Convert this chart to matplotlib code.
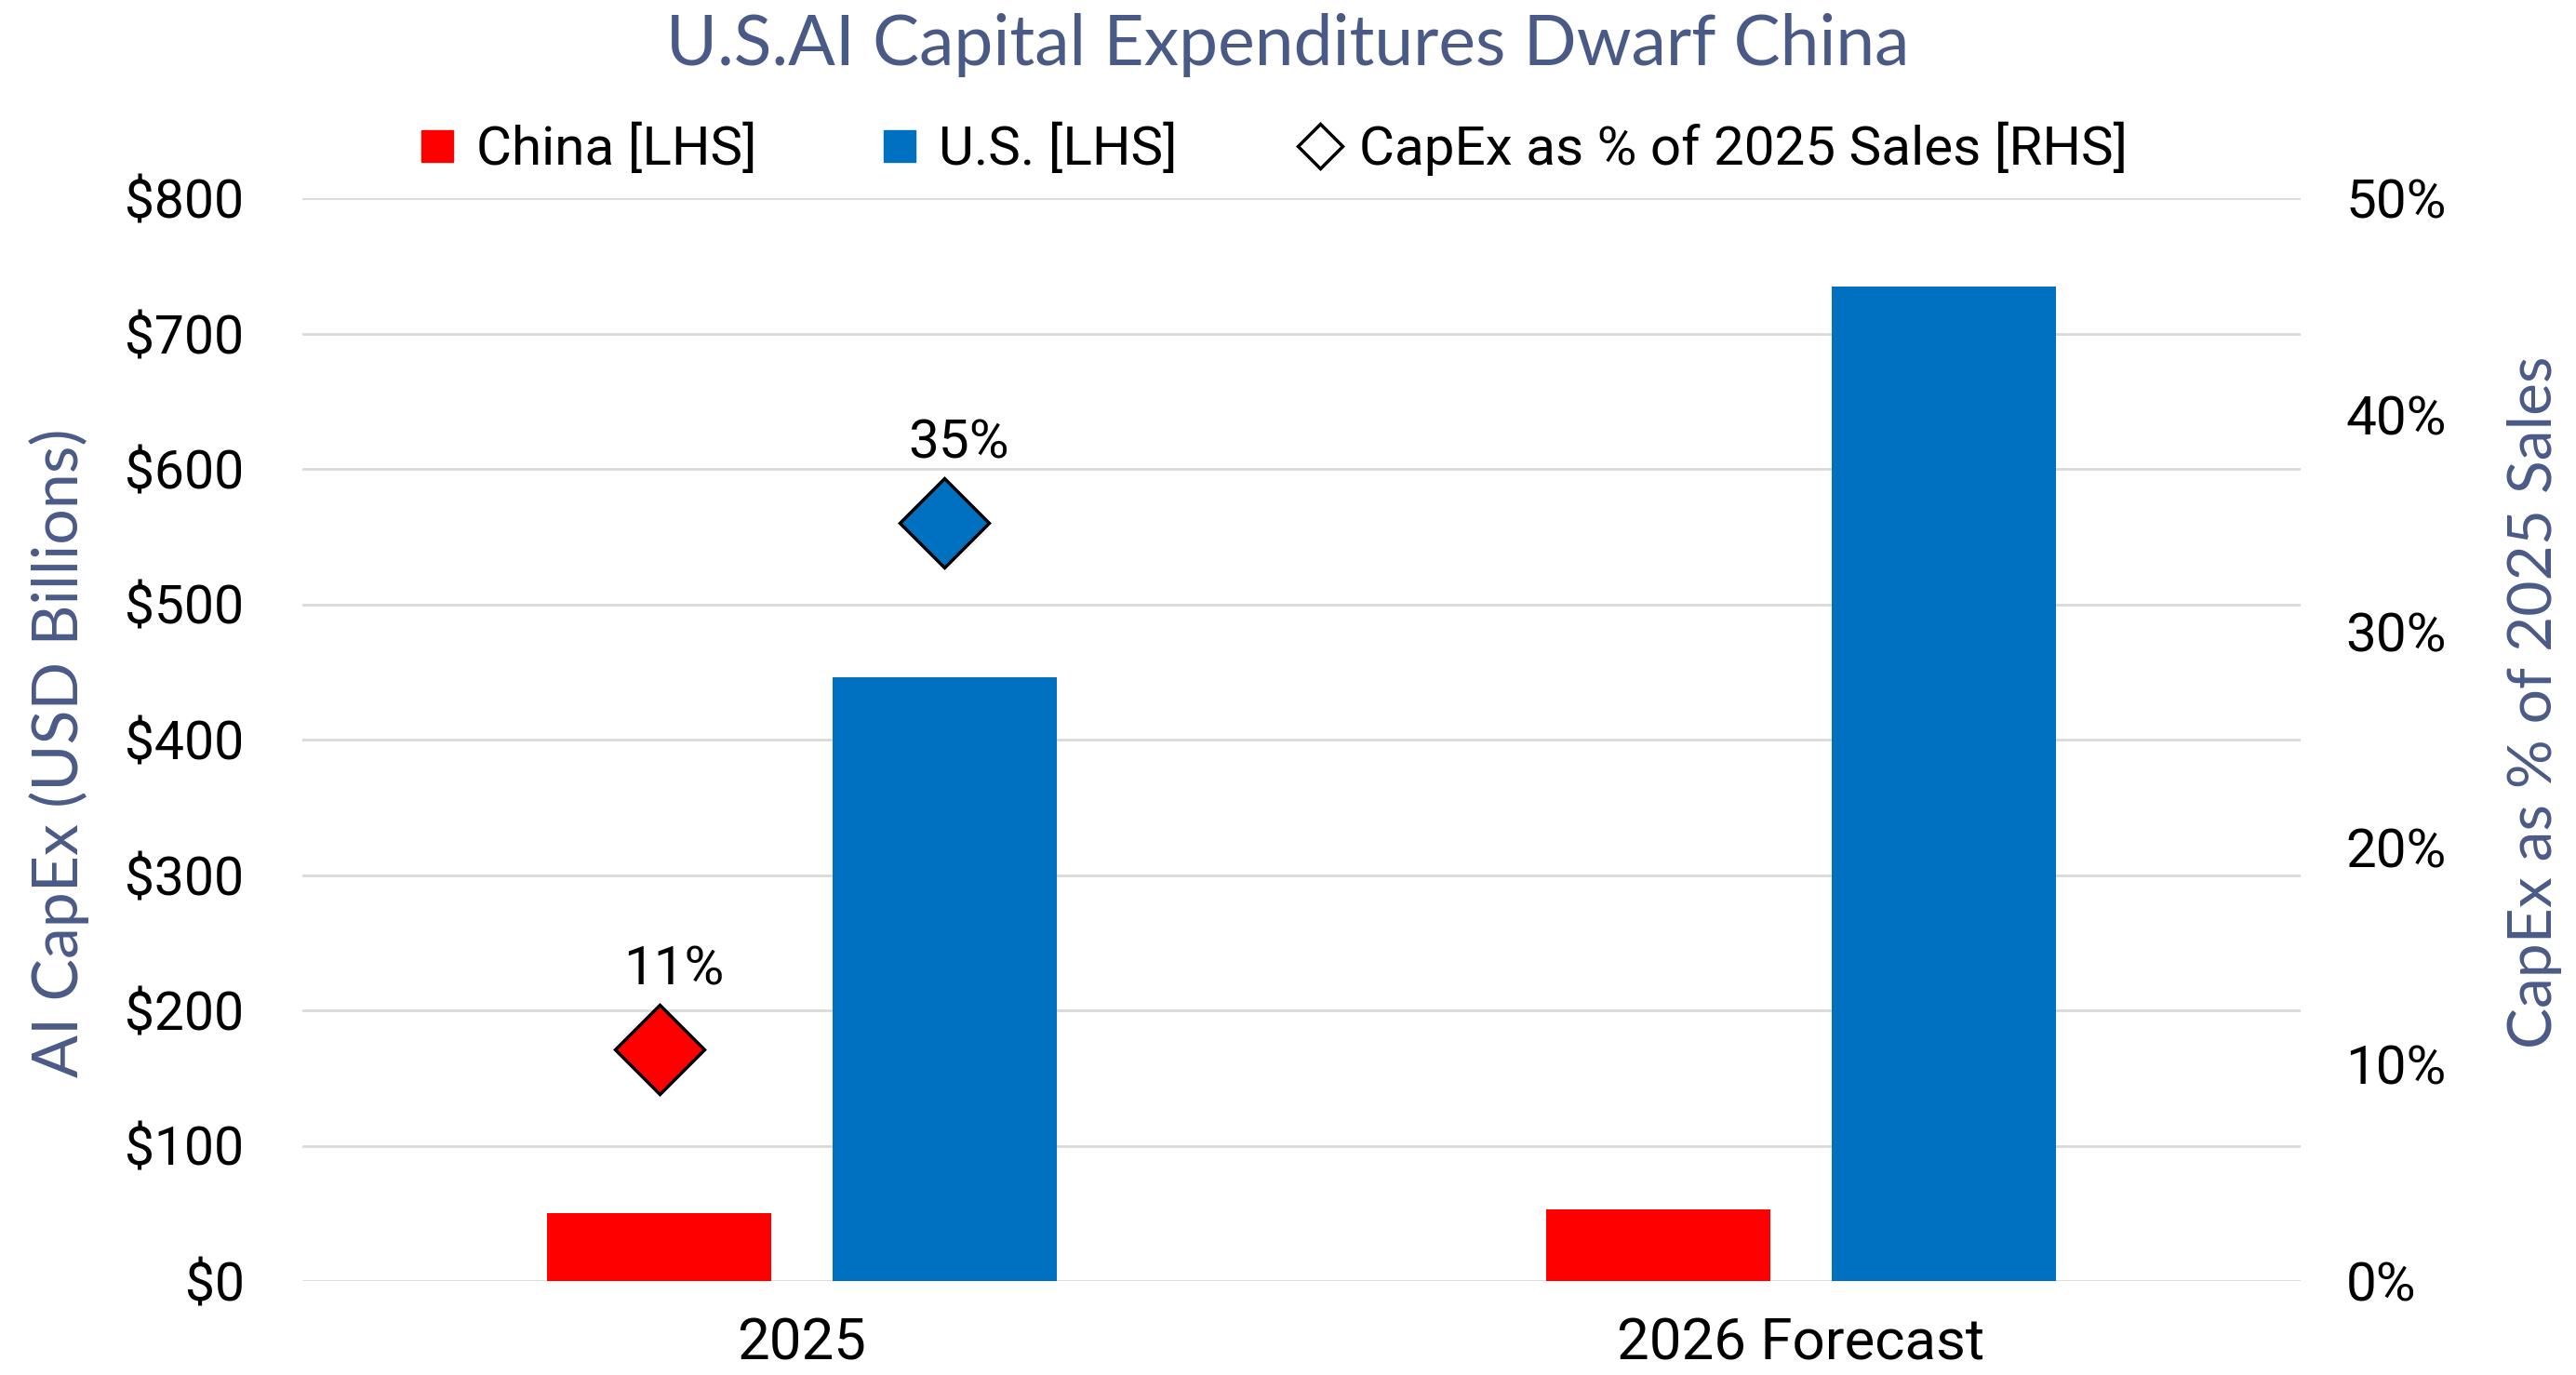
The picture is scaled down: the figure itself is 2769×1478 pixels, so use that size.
import matplotlib
matplotlib.use("Agg")
import matplotlib.pyplot as plt
from matplotlib.lines import Line2D
import numpy as np

# ---- data ----
categories = ["2025", "2026 Forecast"]
china_capex = [50, 53]          # USD billions
us_capex = [446, 735]           # USD billions
capex_pct_2025 = [10.7, 35.0]   # China, U.S. (% of 2025 sales)
left_ticks = [0, 100, 200, 300, 400, 500, 600, 700, 800]
right_ticks = [0, 10, 20, 30, 40, 50]

RED = "#FF0000"
BLUE = "#0070C0"
TITLE_C = "#4A5A87"
GRID_C = "#D9D9D9"

W, H = 2769, 1478
fig = plt.figure(figsize=(W / 100, H / 100), dpi=100)
ax = fig.add_axes([325 / W, 1 - 1377 / H, (2473 - 325) / W, (1377 - 213) / H])

x = np.arange(len(categories))
off = 0.1425
bw = 0.2244
ax.bar(x - off, china_capex, width=bw, color=RED, zorder=2)
ax.bar(x + off, us_capex, width=bw, color=BLUE, zorder=2)

ax.set_xlim(-0.5, len(categories) - 0.5)
ax.set_ylim(0, 800)
ax.set_yticks(left_ticks)
ax.set_yticklabels([f"${v}" for v in left_ticks])
ax.set_xticks(x)
ax.set_xticklabels(categories)
ax.yaxis.grid(True, color=GRID_C, linewidth=2)
ax.set_axisbelow(True)
for s in ax.spines.values():
    s.set_visible(False)
ax.tick_params(axis="y", length=0, pad=45, labelsize=41, labelcolor="black")
ax.tick_params(axis="x", length=0, pad=28, labelsize=44.5, labelcolor="black")
for lab in ax.get_yticklabels() + ax.get_xticklabels():
    lab.set_fontfamily("Roboto")

ax.set_ylabel("AI CapEx (USD Billions)", fontsize=49, color=TITLE_C,
              fontfamily="Lato", ha="center", va="center")
ax.yaxis.set_label_coords((64 - 325) / 2148, (1377 - 809) / 1164)

# ---- right axis ----
ax2 = ax.twinx()
ax2.set_ylim(0, 50)
ax2.set_yticks(right_ticks)
ax2.set_yticklabels([f"{v}%" for v in right_ticks])
for s in ax2.spines.values():
    s.set_visible(False)
ax2.tick_params(axis="y", length=0, pad=35, labelsize=42, labelcolor="black")
for lab in ax2.get_yticklabels():
    lab.set_fontfamily("Roboto")
ax2.set_ylabel("CapEx as % of 2025 Sales", fontsize=47.5, color=TITLE_C,
               fontfamily="Lato", rotation=90, ha="center", va="center")
ax2.yaxis.set_label_coords((2724 - 325) / 2148, (1377 - 755) / 1164)

pct_x = [x[0] - off, x[0] + off]
pct_colors = [RED, BLUE]
for px, pv, pc in zip(pct_x, capex_pct_2025, pct_colors):
    ax2.plot([px], [pv], marker="D", ms=49, mfc=pc, mec="black", mew=2.5,
             linestyle="none", zorder=3)
    ax2.annotate(f"{pv:.0f}%", xy=(px, pv), xytext=(11, 50),
                 textcoords="offset points", ha="center", va="baseline",
                 fontsize=42, fontfamily="Roboto", color="black")

# ---- title ----
fig.text(0.5, 1 - 70 / H, "U.S.AI Capital Expenditures Dwarf China",
         ha="center", va="baseline", fontsize=54, color=TITLE_C,
         fontfamily="Lato")

# ---- legend ----
handles = [
    Line2D([], [], marker="s", ms=25, mfc=RED, mec=RED, linestyle="none"),
    Line2D([], [], marker="s", ms=25, mfc=BLUE, mec=BLUE, linestyle="none"),
    Line2D([], [], marker="D", ms=24, mfc="white", mec="black", mew=2.5,
           linestyle="none"),
]
labels = ["China [LHS]", "U.S. [LHS]", "CapEx as % of 2025 Sales [RHS]"]
leg = fig.legend(handles, labels, loc="center",
                 bbox_to_anchor=(1366 / W, 1 - 160 / H), ncol=3,
                 frameon=False, handlelength=0.85, handletextpad=0.3,
                 columnspacing=2.2, borderaxespad=0, borderpad=0,
                 prop={"family": "Roboto", "size": 42})

fig.savefig("out.png", dpi=100)
